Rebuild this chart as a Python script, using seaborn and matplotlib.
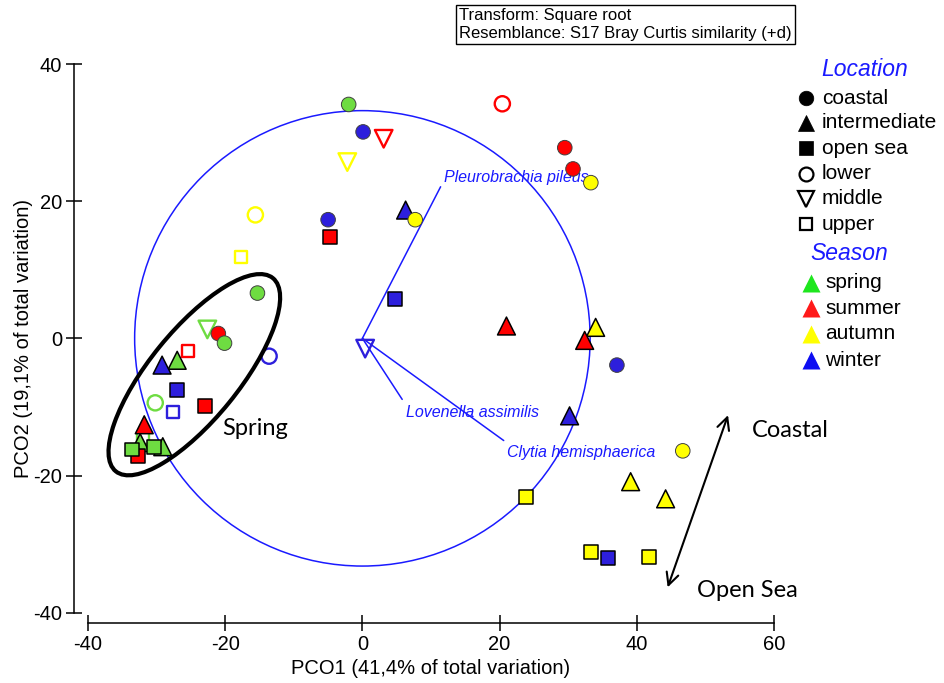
import matplotlib
matplotlib.use("Agg")
import matplotlib.pyplot as plt
from matplotlib.lines import Line2D
from matplotlib.patches import Ellipse, Circle
import seaborn as sns
import pandas as pd

# ---- PCO scores (x = PCO1, y = PCO2) by station type and season ----
coastal_x = [-2.0, 0.1, 29.5, 30.7, 33.3, -5.0, 7.7, -15.3, -21.0, -20.1, 37.1, 46.7]
coastal_y = [34.1, 30.1, 27.8, 24.7, 22.7, 17.3, 17.3, 6.6, 0.7, -0.7, -3.9, -16.4]
coastal_s = ["spring", "winter", "summer", "summer", "autumn", "winter", "autumn",
             "spring", "summer", "spring", "winter", "autumn"]

intermediate_x = [6.3, 21.0, 34.0, 32.4, 30.2, 39.1, 44.2, -27.0, -29.2, -31.8, -32.4, -29.1]
intermediate_y = [18.7, 1.8, 1.6, -0.3, -11.3, -20.9, -23.4, -3.2, -3.9, -12.6, -15.2, -15.8]
intermediate_s = ["winter", "summer", "autumn", "summer", "winter", "autumn", "autumn",
                  "spring", "winter", "summer", "spring", "spring"]

opensea_x = [-4.7, 4.7, -27.0, -22.9, -32.7, -33.6, -30.4, 23.8, 33.3, 35.8, 41.8]
opensea_y = [14.8, 5.7, -7.5, -9.9, -17.1, -16.2, -15.8, -23.1, -31.1, -32.0, -31.9]
opensea_s = ["summer", "winter", "winter", "summer", "summer", "spring", "spring",
             "autumn", "autumn", "winter", "autumn"]

lower_x = [20.4, -15.6, -13.6, -30.2]
lower_y = [34.2, 18.0, -2.6, -9.4]
lower_s = ["summer", "autumn", "winter", "spring"]

middle_x = [3.1, -2.2, -22.6, 0.4]
middle_y = [29.1, 25.7, 1.3, -1.5]
middle_s = ["summer", "autumn", "spring", "winter"]

upper_x = [-17.7, -25.4, -27.6, -32.0]
upper_y = [11.8, -1.8, -10.7, -14.5]
upper_s = ["autumn", "summer", "winter", "spring"]

seasons = ["spring", "summer", "autumn", "winter"]
location_labels = ["coastal", "intermediate", "open sea", "lower", "middle", "upper"]

# species vectors (end points in PCO space) and the unit correlation circle
species = ["Pleurobrachia pileus", "Lovenella assimilis", "Clytia hemisphaerica"]
vec_x = [11.4, 5.8, 20.6]
vec_y = [22.1, -8.9, -14.9]
label_x = [11.9, 6.35, 21.1]
label_y = [23.4, -10.8, -16.6]
circle_r = 33.2

point_pal = {"spring": "#6EDC41", "summer": "#FF0000", "autumn": "#FFFF00", "winter": "#2D1FDC"}
legend_pal = {"spring": "#1EE61E", "summer": "#FF1A1A", "autumn": "#FFFF00", "winter": "#0D0DF2"}
vec_blue = "#1A1AFF"


def frame(x, y, s):
    return pd.DataFrame({"PCO1": x, "PCO2": y, "season": s})


sns.set_theme(style="ticks")
plt.rcParams["font.family"] = ["Liberation Sans", "DejaVu Sans"]
plt.rcParams["axes.unicode_minus"] = False
plt.rcParams["text.color"] = "black"
plt.rcParams["axes.labelcolor"] = "black"

W, H = 945, 683
fig = plt.figure(figsize=(W / 100, H / 100), dpi=100)
ax = fig.add_axes([88 / W, 1 - 612.7 / H, 686 / W, 548.7 / H])
ax.set_xlim(-40, 60)
ax.set_ylim(-40, 40)

# correlation circle and species vectors
ax.add_patch(Circle((0, 0), circle_r, fill=False, ec=vec_blue, lw=1.1, zorder=1))
for name, vx, vy, lx, ly in zip(species, vec_x, vec_y, label_x, label_y):
    ax.plot([0, vx], [0, vy], color=vec_blue, lw=1.1, zorder=1)
    ax.text(lx, ly, name, color=vec_blue, style="italic", fontsize=11.5,
            ha="left", va="center", zorder=1)

# open symbols (depth layers)
open_groups = [
    (lower_x, lower_y, lower_s, "o", 120),
    (middle_x, middle_y, middle_s, "v", 160),
    (upper_x, upper_y, upper_s, "s", 75),
]
for gx, gy, gs, mk, size in open_groups:
    sns.scatterplot(data=frame(gx, gy, gs), x="PCO1", y="PCO2", hue="season",
                    hue_order=seasons, palette=point_pal, marker=mk, s=size,
                    legend=False, ax=ax, zorder=3)
    coll = ax.collections[-1]
    fc = coll.get_facecolors()
    coll.set_edgecolors(fc)
    coll.set_facecolors("none")
    coll.set_linewidth(1.7)

# filled symbols (stations)
filled_groups = [
    (intermediate_x, intermediate_y, intermediate_s, "^", 165, "black", 1.1),
    (coastal_x, coastal_y, coastal_s, "o", 110, "#404040", 0.7),
    (opensea_x, opensea_y, opensea_s, "s", 100, "black", 1.1),
]
for gx, gy, gs, mk, size, ec, lw in filled_groups:
    sns.scatterplot(data=frame(gx, gy, gs), x="PCO1", y="PCO2", hue="season",
                    hue_order=seasons, palette=point_pal, marker=mk, s=size,
                    edgecolor=ec, linewidth=lw, legend=False, ax=ax, zorder=4)

# spring cluster ellipse
ax.add_patch(Ellipse((-24.5, -5.3), 36.3, 13.0, angle=50.9, fill=False,
                     ec="black", lw=3.0, zorder=5))
ax.text(-20.5, -13.1, "Spring", fontsize=17, family="Lato", ha="left", va="center")

# coastal - open sea gradient
ax.annotate("", xy=(53.3, -11.2), xytext=(44.5, -36.3),
            arrowprops=dict(arrowstyle="<->", lw=1.5, color="black",
                            mutation_scale=22, shrinkA=0, shrinkB=0),
            annotation_clip=False)
ax.text(56.8, -13.4, "Coastal", fontsize=17, family="Lato", ha="left", va="center",
        clip_on=False)
ax.text(48.8, -36.7, "Open Sea", fontsize=17, family="Lato", ha="left", va="center",
        clip_on=False)

# axes styling
for side in ("top", "right"):
    ax.spines[side].set_visible(False)
ax.spines["left"].set_position(("outward", 10.4))
ax.spines["bottom"].set_position(("outward", 7.6))
ax.spines["left"].set_bounds(-40, 40)
ax.spines["bottom"].set_bounds(-40, 60)
for side in ("left", "bottom"):
    ax.spines[side].set_linewidth(1.1)
    ax.spines[side].set_color("black")
ax.set_xticks([-40, -20, 0, 20, 40, 60])
ax.set_yticks([-40, -20, 0, 20, 40])
ax.tick_params(axis="both", direction="inout", length=11.5, width=1.1,
               labelsize=14.5, colors="black", labelcolor="black")
ax.tick_params(axis="x", pad=3)
ax.tick_params(axis="y", pad=2.5)
ax.set_xlabel("PCO1 (41,4% of total variation)", fontsize=14.5, labelpad=3, color="black")
ax.set_ylabel("PCO2 (19,1% of total variation)", fontsize=14.5, labelpad=0, color="black")
ax.grid(False)


def fx(px):
    return px / W


def fy(py):
    return 1 - py / H


# analysis settings box
fig.text(fx(459), fy(8), "Transform: Square root\nResemblance: S17 Bray Curtis similarity (+d)",
         fontsize=12, ha="left", va="top", linespacing=1.25,
         bbox=dict(boxstyle="square,pad=0.2", fc="white", ec="black", lw=1.0))

# legend: station type / depth layer
fig.text(fx(865), fy(70), "Location", color=vec_blue, style="italic", fontsize=16.5,
         ha="center", va="center")
loc_markers = ["o", "^", "s", "o", "v", "s"]
loc_filled = [True, True, True, False, False, False]
loc_sizes = [10.5, 11.5, 10.0, 10.0, 11.0, 8.5]
loc_rows = [98, 123, 148, 174, 199, 224]
for lab, mk, filled, ms, row in zip(location_labels, loc_markers, loc_filled, loc_sizes, loc_rows):
    fig.add_artist(Line2D([fx(806)], [fy(row)], marker=mk, markersize=ms, linestyle="none",
                          markerfacecolor="black" if filled else "none",
                          markeredgecolor="black", markeredgewidth=1.6 if not filled else 0.5,
                          transform=fig.transFigure))
    fig.text(fx(822), fy(row), lab, fontsize=15, ha="left", va="center")

# legend: season colours
fig.text(fx(849), fy(253), "Season", color=vec_blue, style="italic", fontsize=16.5,
         ha="center", va="center")
season_rows = [283, 308, 334, 360]
for lab, row in zip(seasons, season_rows):
    fig.add_artist(Line2D([fx(811)], [fy(row)], marker="^", markersize=13.5, linestyle="none",
                          markerfacecolor=legend_pal[lab], markeredgecolor="none",
                          transform=fig.transFigure))
    fig.text(fx(825), fy(row), lab, fontsize=15, ha="left", va="center")

fig.savefig("out.png", dpi=100)
